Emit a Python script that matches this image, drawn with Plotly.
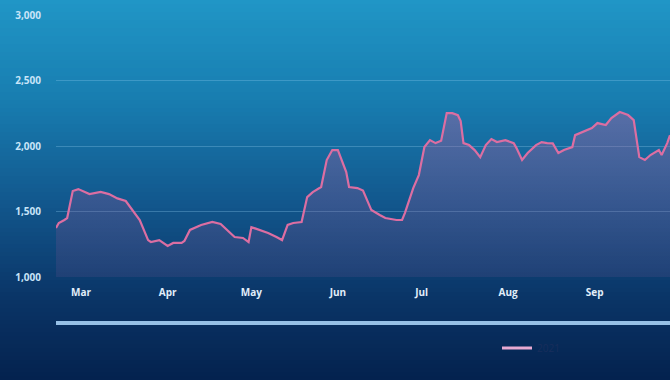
import plotly.graph_objects as go

dates = [
    "2021-02-20", "2021-02-21", "2021-02-23", "2021-02-24", "2021-02-26", "2021-02-28",
    "2021-03-04", "2021-03-08", "2021-03-11", "2021-03-14", "2021-03-17", "2021-03-20",
    "2021-03-22", "2021-03-25", "2021-03-26", "2021-03-29", "2021-04-01", "2021-04-03",
    "2021-04-06", "2021-04-07", "2021-04-09", "2021-04-13", "2021-04-17", "2021-04-20",
    "2021-04-23", "2021-04-25", "2021-04-28", "2021-04-30", "2021-05-01", "2021-05-04",
    "2021-05-07", "2021-05-10", "2021-05-12", "2021-05-14", "2021-05-16", "2021-05-19",
    "2021-05-21", "2021-05-23", "2021-05-26", "2021-05-28", "2021-05-30", "2021-06-01",
    "2021-06-04", "2021-06-05", "2021-06-08", "2021-06-10", "2021-06-13", "2021-06-16",
    "2021-06-18", "2021-06-22", "2021-06-24", "2021-06-25", "2021-06-28", "2021-06-30",
    "2021-07-02", "2021-07-04", "2021-07-06", "2021-07-08", "2021-07-10", "2021-07-12",
    "2021-07-14", "2021-07-15", "2021-07-16", "2021-07-18", "2021-07-20", "2021-07-22",
    "2021-07-24", "2021-07-26", "2021-07-28", "2021-07-31", "2021-08-03", "2021-08-04",
    "2021-08-06", "2021-08-08", "2021-08-11", "2021-08-13", "2021-08-15", "2021-08-17",
    "2021-08-19", "2021-08-21", "2021-08-24", "2021-08-25", "2021-08-29", "2021-08-31",
    "2021-09-02", "2021-09-05", "2021-09-07", "2021-09-10", "2021-09-13", "2021-09-15",
    "2021-09-17", "2021-09-19", "2021-09-21", "2021-09-24", "2021-09-25", "2021-09-27",
    "2021-09-28",
]
values = [
    1374, 1412, 1435, 1450, 1656, 1671,
    1633, 1650, 1633, 1600, 1580, 1490,
    1435, 1282, 1267, 1282, 1237, 1260,
    1260, 1275, 1359, 1397, 1420, 1405,
    1343, 1305, 1298, 1267, 1381, 1359,
    1336, 1305, 1282, 1397, 1412, 1420,
    1610, 1648, 1687, 1893, 1969, 1969,
    1801, 1687, 1679, 1660, 1511, 1473,
    1450, 1435, 1435, 1488, 1679, 1778,
    1992, 2045, 2022, 2040, 2251, 2251,
    2235, 2190, 2022, 2007, 1969, 1915,
    2007, 2053, 2030, 2045, 2022, 1984,
    1893, 1946, 2007, 2030, 2022, 2020,
    1946, 1969, 1992, 2083, 2121, 2137,
    2175, 2160, 2213, 2259, 2236, 2198,
    1915, 1893, 1931, 1969, 1931, 2022,
    2083,
]
series_name = "2021"
y_ticks = [1000, 1500, 2000, 2500, 3000]
y_tick_labels = ["1,000", "1,500", "2,000", "2,500", "3,000"]
x_ticks = ["2021-03-01", "2021-04-01", "2021-05-01", "2021-06-01",
           "2021-07-01", "2021-08-01", "2021-09-01"]
x_tick_labels = ["Mar", "Apr", "May", "Jun", "Jul", "Aug", "Sep"]

W, H = 670, 380
ML, MR, MT, MB = 56, 0, 15, 103
PH = H - MT - MB
PW = W - ML - MR

def py_to_paper(py):
    return (H - MB - py) / PH

# vertical background gradient stops (pixel y, rgb)
grad = [(0, (32, 150, 198)), (100, (24, 125, 176)), (200, (18, 88, 142)),
        (300, (10, 52, 102)), (380, (4, 34, 78))]

def color_at(py):
    for (y0, c0), (y1, c1) in zip(grad[:-1], grad[1:]):
        if y0 <= py <= y1:
            t = (py - y0) / (y1 - y0)
            return tuple(round(a + (b - a) * t) for a, b in zip(c0, c1))
    return grad[-1][1]

shapes = []
step = 4
for py in range(0, H, step):
    c = color_at(py + step / 2)
    shapes.append(dict(type="rect", xref="paper", yref="paper",
                       x0=-0.2, x1=1.2, y0=py_to_paper(py + step + 0.5), y1=py_to_paper(py),
                       fillcolor=f"rgb{c}", line=dict(width=0), layer="below"))
# navigator bar
shapes.append(dict(type="rect", xref="paper", yref="paper",
                   x0=0, x1=1.0, y0=py_to_paper(325), y1=py_to_paper(321),
                   fillcolor="rgb(150,192,230)", line=dict(width=0), layer="above"))

fig = go.Figure()
fig.add_trace(go.Scatter(
    x=dates, y=values, mode="lines", name=series_name, showlegend=False,
    line=dict(color="rgb(220,110,162)", width=2.2),
    fill="tozeroy",
    fillgradient=dict(type="vertical",
                      colorscale=[[0, "rgba(100,80,140,0.22)"], [1, "rgba(190,95,160,0.40)"]],
                      start=1000, stop=2300),
    hoverinfo="skip",
))
fig.add_trace(go.Scatter(
    x=[None], y=[None], mode="lines", name=series_name,
    line=dict(color="rgb(232,170,210)", width=3),
))

fig.update_layout(
    width=W, height=H,
    margin=dict(l=ML, r=MR, t=MT, b=MB),
    paper_bgcolor="rgb(10,50,100)",
    plot_bgcolor="rgba(0,0,0,0)",
    shapes=shapes,
    showlegend=True,
    legend=dict(orientation="h", x=(497 - ML) / PW, xanchor="left",
                y=py_to_paper(348), yanchor="middle",
                font=dict(family="Open Sans", size=10, color="rgb(24,46,92)"),
                bgcolor="rgba(0,0,0,0)"),
    xaxis=dict(type="date", range=["2021-02-20", "2021-09-28"],
               tickvals=x_ticks, ticktext=x_tick_labels,
               showgrid=False, zeroline=False, showline=False,
               ticks="outside", ticklen=6, tickcolor="rgba(0,0,0,0)",
               tickfont=dict(family="Open Sans", size=10, color="rgb(225,238,250)", weight="bold")),
    yaxis=dict(range=[1000, 3000], tickvals=y_ticks, ticktext=y_tick_labels,
               showgrid=True, gridcolor="rgba(140,200,235,0.32)", gridwidth=1,
               zeroline=False, showline=False,
               ticks="outside", ticklen=12, tickcolor="rgba(0,0,0,0)",
               tickfont=dict(family="Open Sans", size=10, color="rgb(200,228,248)", weight="bold")),
)

fig.write_html("out.html")
